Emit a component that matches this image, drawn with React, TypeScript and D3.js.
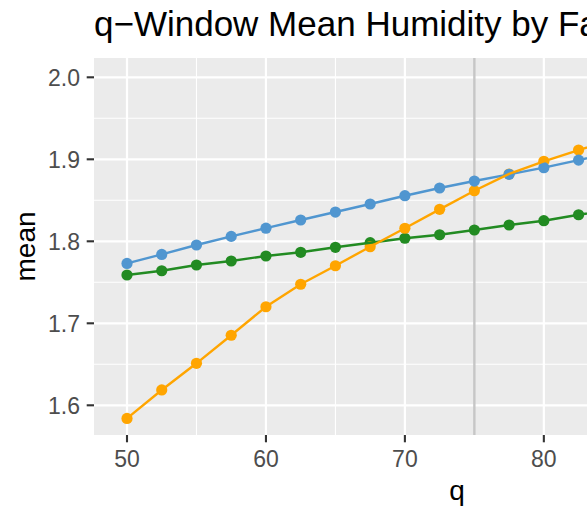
import React from "react";
import * as d3 from "d3";

const qValues = [50, 52.5, 55, 57.5, 60, 62.5, 65, 67.5, 70, 72.5, 75, 77.5, 80, 82.5, 85, 87.5, 90, 92.5, 95, 97.5];
const blueSeries = [1.773, 1.784, 1.7955, 1.806, 1.816, 1.826, 1.8357, 1.8455, 1.8556, 1.865, 1.8735, 1.8817, 1.8898, 1.899, 1.908, 1.916, 1.924, 1.932, 1.94, 1.948];
const orangeSeries = [1.584, 1.6187, 1.6512, 1.6854, 1.7202, 1.7476, 1.7702, 1.7934, 1.8159, 1.839, 1.8617, 1.8821, 1.8976, 1.9113, 1.924, 1.937, 1.95, 1.963, 1.977, 1.99];
const greenSeries = [1.7589, 1.7641, 1.7711, 1.776, 1.7821, 1.7866, 1.7927, 1.7983, 1.8037, 1.808, 1.8138, 1.8199, 1.8251, 1.8324, 1.839, 1.845, 1.851, 1.857, 1.863, 1.869];
const xTicks = [50, 60, 70, 80, 90];
const xMinor = [55, 65, 75, 85, 95];
const yTicks = [1.6, 1.7, 1.8, 1.9, 2.0];
const yMinor = [1.65, 1.75, 1.85, 1.95];
const vLineQ = 75;
const titleText = "q\u2212Window Mean Humidity by Factor";

const W = 587;
const H = 511;
const panel = { left: 94, right: 820, top: 58, bottom: 435 };

export default function App() {
  const x = d3.scaleLinear().domain([47.625, 99.875]).range([panel.left, panel.right]);
  const y = d3.scaleLinear().domain([1.56378, 2.02354]).range([panel.bottom, panel.top]);

  const series = [
    { name: "green", color: "#228B22", values: greenSeries },
    { name: "orange", color: "#FFA500", values: orangeSeries },
    { name: "blue", color: "#5096D0", values: blueSeries },
  ];
  const lineOrder = [series[0], series[2], series[1]];

  const line = d3
    .line<number>()
    .x((_, i) => x(qValues[i]))
    .y((v) => y(v));

  const font = "'Liberation Sans', Arial, Helvetica, sans-serif";
  const visibleXTicks = xTicks.filter((t) => x(t) + 14 < W);

  return (
    <svg
      width={W}
      height={H}
      style={{ position: "absolute", left: 0, top: 0, background: "#fff" }}
      fontFamily={font}
    >
      <defs>
        <clipPath id="panelClip">
          <rect x={panel.left} y={panel.top} width={panel.right - panel.left} height={panel.bottom - panel.top} />
        </clipPath>
      </defs>
      <rect x={0} y={0} width={W} height={H} fill="#fff" />
      <rect
        x={panel.left}
        y={panel.top}
        width={panel.right - panel.left}
        height={panel.bottom - panel.top}
        fill="#EBEBEB"
      />
      <g clipPath="url(#panelClip)">
        {yMinor.map((t) => (
          <line key={"ym" + t} x1={panel.left} x2={panel.right} y1={y(t)} y2={y(t)} stroke="#fff" strokeWidth={1.1} />
        ))}
        {xMinor.map((t) => (
          <line key={"xm" + t} y1={panel.top} y2={panel.bottom} x1={x(t)} x2={x(t)} stroke="#fff" strokeWidth={1.1} />
        ))}
        {yTicks.map((t) => (
          <line key={"yM" + t} x1={panel.left} x2={panel.right} y1={y(t)} y2={y(t)} stroke="#fff" strokeWidth={2.2} />
        ))}
        {xTicks.map((t) => (
          <line key={"xM" + t} y1={panel.top} y2={panel.bottom} x1={x(t)} x2={x(t)} stroke="#fff" strokeWidth={2.2} />
        ))}
        <line x1={x(vLineQ)} x2={x(vLineQ)} y1={panel.top} y2={panel.bottom} stroke="#C6C6C6" strokeWidth={2.4} />
        {series.map((s) => (
          <g key={"p" + s.name}>
            {s.values.map((v, i) => (
              <circle key={i} cx={x(qValues[i])} cy={y(v)} r={5.6} fill={s.color} />
            ))}
          </g>
        ))}
        {lineOrder.map((s) => (
          <path key={"l" + s.name} d={line(s.values) || ""} fill="none" stroke={s.color} strokeWidth={2.4} />
        ))}
      </g>
      {yTicks.map((t) => (
        <g key={"yt" + t}>
          <line x1={panel.left - 7.3} x2={panel.left} y1={y(t)} y2={y(t)} stroke="#333333" strokeWidth={2.1} />
          <text x={80} y={y(t)} dy="0.36em" textAnchor="end" fontSize={23} fill="#4D4D4D">
            {t.toFixed(1)}
          </text>
        </g>
      ))}
      {xTicks.map((t) => (
        <line key={"xtk" + t} y1={panel.bottom} y2={panel.bottom + 7.3} x1={x(t)} x2={x(t)} stroke="#333333" strokeWidth={2.1} />
      ))}
      {visibleXTicks.map((t) => (
        <text key={"xt" + t} x={x(t)} y={466.5} textAnchor="middle" fontSize={23} fill="#4D4D4D">
          {t}
        </text>
      ))}
      <text x={(panel.left + panel.right) / 2} y={500} textAnchor="middle" fontSize={28} fill="#000">
        q
      </text>
      <text
        transform={`translate(35, ${(panel.top + panel.bottom) / 2}) rotate(-90)`}
        textAnchor="middle"
        fontSize={28}
        fill="#000"
      >
        mean
      </text>
      <text x={94} y={36} fontSize={35} fill="#000">
        {titleText}
      </text>
    </svg>
  );
}
